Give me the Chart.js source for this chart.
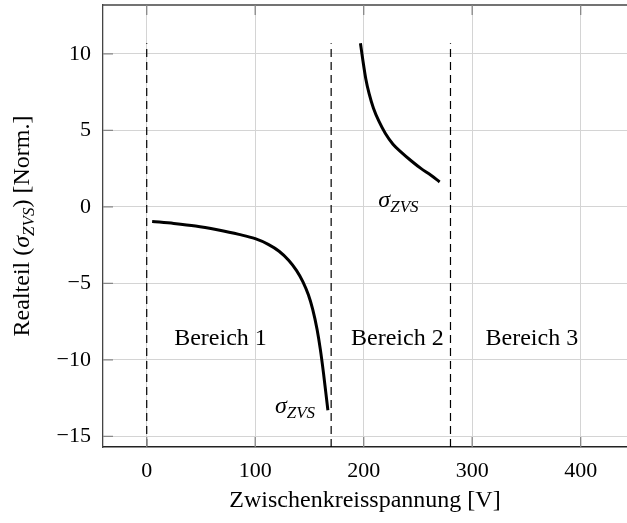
<!DOCTYPE html>
<html>
<head>
<meta charset="utf-8">
<script src="https://cdn.jsdelivr.net/npm/chart.js@4"></script>
<style>
  html, body { margin: 0; padding: 0; background: #fff; }
</style>
</head>
<body>
<canvas id="realteil" width="627" height="523"></canvas>
<script>
// Bereich 1: Realteil sigma_ZVS (negativ)
var spannung1 = [5, 25, 45, 65, 85, 100, 112, 122, 131, 138, 144, 149, 153, 157, 160, 163, 165, 167];
var realteil1 = [-0.95, -1.08, -1.25, -1.5, -1.8, -2.08, -2.45, -2.9, -3.5, -4.15, -4.9, -5.75, -6.7, -8.0, -9.3, -10.9, -12.1, -13.3];

// Bereich 2: Realteil sigma_ZVS (positiv)
var spannung2 = [197, 199, 202, 205, 209, 214, 220, 227, 235, 244, 253, 262, 270];
var realteil2 = [10.7, 9.7, 8.35, 7.4, 6.45, 5.6, 4.8, 4.1, 3.55, 3.0, 2.5, 2.07, 1.63];

// Bereichsgrenzen (gestrichelt)
var grenzen = [0, 170, 280];
var grenzeOben = 10.7;

var xTicks = [0, 100, 200, 300, 400];
var yTicks = [-15, -10, -5, 0, 5, 10];
var bereiche = ["Bereich 1", "Bereich 2", "Bereich 3"];

var xMin = -40.3, xMax = 442.7;
var yMin = -15.7, yMax = 13.2;

var serif = "'Liberation Serif', 'Times New Roman', serif";

function toPoints(xs, ys) {
    return xs.map(function (x, i) { return {x: x, y: ys[i]}; });
}

var datasets = [
    {
        data: toPoints(spannung1, realteil1),
        borderColor: '#000',
        borderWidth: 3,
        pointRadius: 0,
        cubicInterpolationMode: 'monotone'
    },
    {
        data: toPoints(spannung2, realteil2),
        borderColor: '#000',
        borderWidth: 3,
        pointRadius: 0,
        cubicInterpolationMode: 'monotone'
    }
];
grenzen.forEach(function (g) {
    datasets.push({
        data: [{x: g, y: yMin}, {x: g, y: grenzeOben}],
        borderColor: '#000',
        borderWidth: 1.2,
        borderDash: [8, 5],
        pointRadius: 0
    });
});

// sigma mit Index ZVS
function sigmaWidth(ctx) {
    ctx.font = 'italic 24px ' + serif;
    var w = ctx.measureText('\u03c3').width;
    ctx.font = 'italic 17px ' + serif;
    return w + ctx.measureText('ZVS').width;
}
function drawSigma(ctx, x, y) {
    ctx.textAlign = 'left';
    ctx.textBaseline = 'alphabetic';
    ctx.font = 'italic 24px ' + serif;
    ctx.fillText('\u03c3', x, y);
    var w = ctx.measureText('\u03c3').width;
    ctx.font = 'italic 17px ' + serif;
    ctx.fillText('ZVS', x + w, y + 5);
}

var beschriftung = {
    id: 'beschriftung',
    afterDraw: function (chart) {
        var ctx = chart.ctx;
        var a = chart.chartArea;
        var xs = chart.scales.x, ys = chart.scales.y;
        ctx.save();

        // Rahmen oben
        ctx.strokeStyle = '#444';
        ctx.lineWidth = 1.3;
        ctx.beginPath();
        ctx.moveTo(a.left, a.top);
        ctx.lineTo(a.right, a.top);
        ctx.stroke();

        // Ticks nach innen
        ctx.strokeStyle = '#888';
        ctx.lineWidth = 1.3;
        ctx.beginPath();
        xTicks.forEach(function (t) {
            var px = xs.getPixelForValue(t);
            ctx.moveTo(px, a.bottom); ctx.lineTo(px, a.bottom - 10);
            ctx.moveTo(px, a.top); ctx.lineTo(px, a.top + 10);
        });
        yTicks.forEach(function (t) {
            var py = ys.getPixelForValue(t);
            ctx.moveTo(a.left, py); ctx.lineTo(a.left + 10, py);
        });
        ctx.stroke();

        // Bereichsnamen
        ctx.fillStyle = '#000';
        ctx.font = '24px ' + serif;
        ctx.textAlign = 'center';
        ctx.textBaseline = 'alphabetic';
        var bx = [68, 231, 355];
        bereiche.forEach(function (b, i) {
            ctx.fillText(b, xs.getPixelForValue(bx[i]), ys.getPixelForValue(-9.0));
        });

        // sigma_ZVS an den Kurven
        var w = sigmaWidth(ctx);
        drawSigma(ctx, xs.getPixelForValue(155.2) - w, ys.getPixelForValue(-13.5));
        drawSigma(ctx, xs.getPixelForValue(213.5), ys.getPixelForValue(0.0));

        // y-Achsentitel
        ctx.translate(21, (a.top + a.bottom) / 2);
        ctx.rotate(-Math.PI / 2);
        ctx.font = '24px ' + serif;
        var t1 = 'Realteil (', t2 = ') [Norm.]';
        var total = ctx.measureText(t1).width + w + ctx.measureText(t2).width;
        var x0 = -total / 2;
        ctx.textAlign = 'left';
        ctx.textBaseline = 'alphabetic';
        ctx.fillText(t1, x0, 8);
        x0 += ctx.measureText(t1).width;
        drawSigma(ctx, x0, 8);
        x0 += w;
        ctx.font = '24px ' + serif;
        ctx.textAlign = 'left';
        ctx.fillText(t2, x0, 8);
        ctx.restore();
    }
};

new Chart(document.getElementById('realteil'), {
    type: 'line',
    data: {datasets: datasets},
    plugins: [beschriftung],
    options: {
        responsive: false,
        animation: false,
        devicePixelRatio: 1,
        layout: {padding: {top: 5, left: 0, right: 0, bottom: 0}},
        plugins: {legend: {display: false}, tooltip: {enabled: false}},
        scales: {
            x: {
                type: 'linear',
                min: xMin,
                max: xMax,
                afterBuildTicks: function (s) { s.ticks = xTicks.map(function (v) { return {value: v}; }); },
                afterFit: function (s) { s.height = 76; s.paddingLeft = 0; s.paddingRight = 0; },
                ticks: {font: {family: serif, size: 22}, color: '#000', padding: 11},
                grid: {color: '#d4d4d4', lineWidth: 1, drawTicks: false},
                border: {display: true, color: '#222', width: 1.5},
                title: {
                    display: true,
                    text: 'Zwischenkreisspannung [V]',
                    font: {family: serif, size: 24},
                    color: '#000',
                    padding: {top: 0, bottom: 8}
                }
            },
            y: {
                type: 'linear',
                min: yMin,
                max: yMax,
                afterBuildTicks: function (s) { s.ticks = yTicks.map(function (v) { return {value: v}; }); },
                afterFit: function (s) { s.width = 103; s.paddingTop = 0; s.paddingBottom = 0; },
                ticks: {
                    font: {family: serif, size: 22},
                    color: '#000',
                    padding: 12,
                    callback: function (v) { return v < 0 ? '\u2212' + Math.abs(v) : String(v); }
                },
                grid: {color: '#d4d4d4', lineWidth: 1, drawTicks: false},
                border: {display: true, color: '#444', width: 1.3}
            }
        }
    }
});
</script>
</body>
</html>
